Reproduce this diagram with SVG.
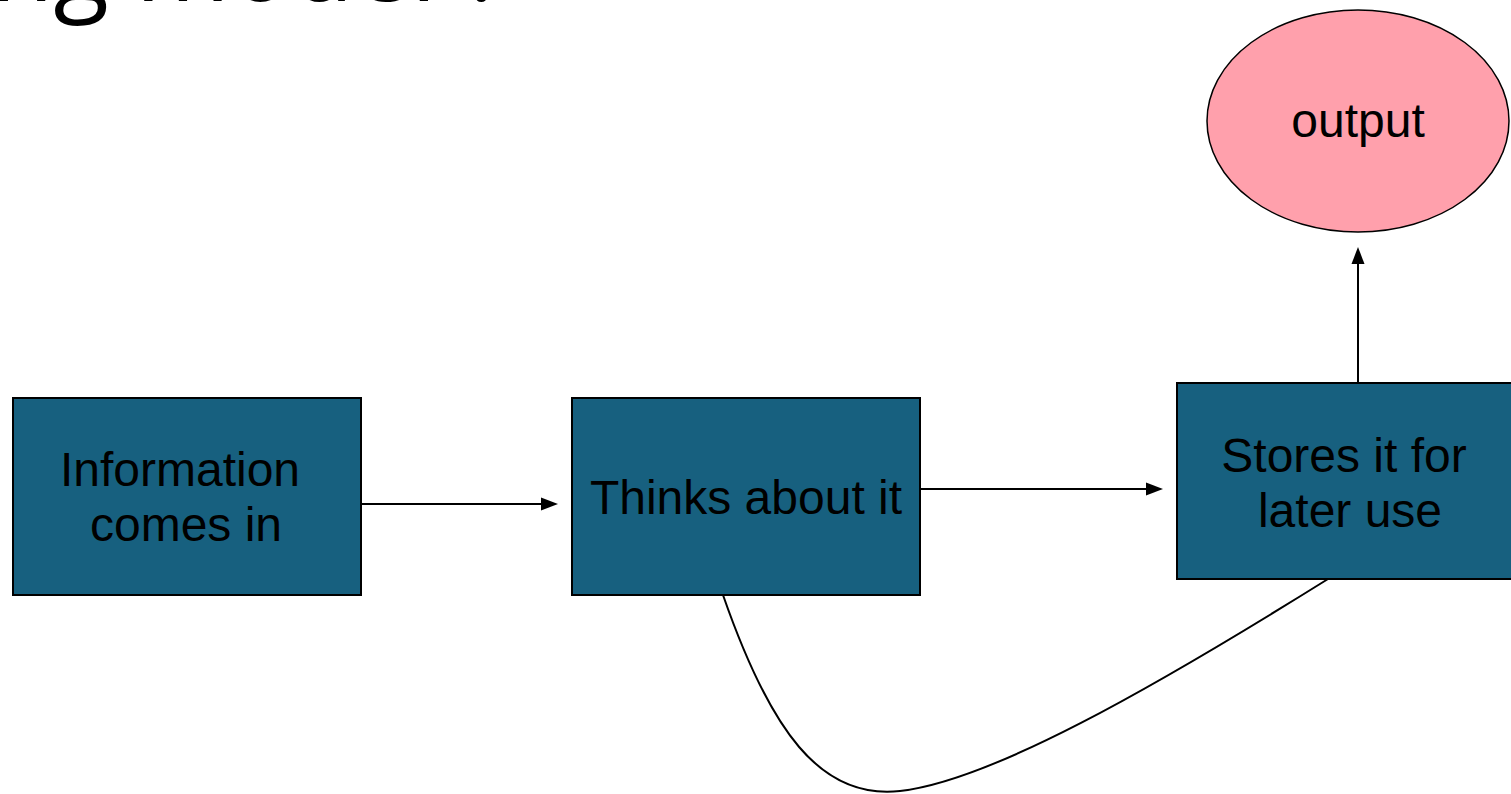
<svg xmlns="http://www.w3.org/2000/svg" width="1511" height="794" viewBox="0 0 1511 794">
<style>
.box{fill:#17607F;stroke:#000;stroke-width:2}
.lbl{font-family:"Liberation Sans",Arial,sans-serif;font-size:48px;fill:#000;text-anchor:middle}
.con{fill:none;stroke:#000;stroke-width:2}
.head{fill:#000;stroke:none}
.title{font-family:"Open Sans",sans-serif;font-size:102px;fill:#000}
</style>
<rect width="1511" height="794" fill="#fff"/>
<text class="title" x="-9" y="1">ng model ?</text>
<g id="connectors">
<line class="con" x1="361" y1="504" x2="542" y2="504"/>
<polygon class="head" points="558,504 541,497.5 541,510.5"/>
<line class="con" x1="920" y1="489" x2="1147" y2="489"/>
<polygon class="head" points="1163,489 1146,482.5 1146,495.5"/>
<line class="con" x1="1358" y1="383" x2="1358" y2="263"/>
<polygon class="head" points="1358,247 1351.5,264 1364.5,264"/>
<path class="con" d="M723,595 C770,730 820,800 900,791 C990,781 1150,690 1328,579"/>
</g>
<g id="node-info">
<rect class="box" x="13" y="398" width="348" height="197"/>
<text class="lbl" x="180" y="486">Information</text>
<text class="lbl" x="186" y="541">comes in</text>
</g>
<g id="node-thinks">
<rect class="box" x="572" y="398" width="348" height="197"/>
<text class="lbl" x="746" y="514">Thinks about it</text>
</g>
<g id="node-stores">
<rect class="box" x="1177" y="383" width="340" height="196"/>
<text class="lbl" x="1344" y="472">Stores it for</text>
<text class="lbl" x="1350" y="527">later use</text>
</g>
<g id="node-output">
<ellipse cx="1358" cy="121" rx="151" ry="111" fill="#FFA0AC" stroke="#000" stroke-width="1.5"/>
<text class="lbl" x="1358" y="137">output</text>
</g>
</svg>
